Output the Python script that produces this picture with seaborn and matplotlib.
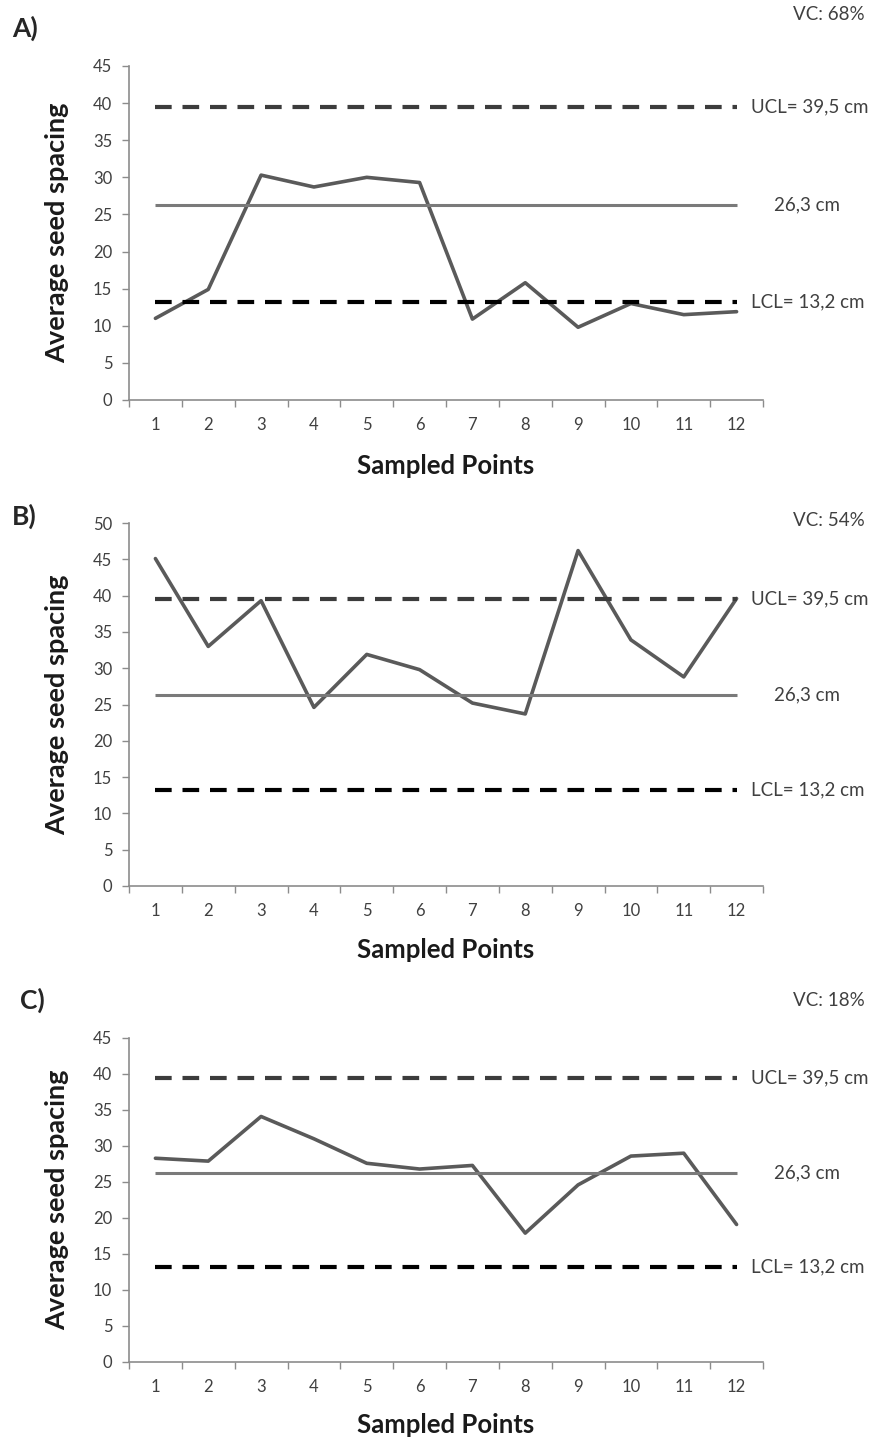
import numpy as np
import pandas as pd
import matplotlib
matplotlib.use("Agg")
import matplotlib.pyplot as plt
import seaborn as sns

points = list(range(1, 13))
spacing_a = [11.0, 14.9, 30.3, 28.7, 30.0, 29.3, 10.9, 15.8, 9.8, 13.0, 11.5, 11.9]
spacing_b = [45.1, 33.0, 39.3, 24.6, 31.9, 29.8, 25.2, 23.7, 46.2, 33.9, 28.8, 39.6]
spacing_c = [28.3, 27.9, 34.1, 31.0, 27.6, 26.8, 27.3, 17.9, 24.6, 28.6, 29.0, 19.1]
panel_names = ["A)", "B)", "C)"]
vc_labels = ["VC: 68%", "VC: 54%", "VC: 18%"]
y_max = [45, 50, 45]
ucl, mean, lcl = 39.5, 26.3, 13.2
ucl_label = "UCL= 39,5 cm"
mean_label = "26,3 cm"
lcl_label = "LCL= 13,2 cm"

sns.set_style("ticks")
plt.rcParams['font.family'] = ['Lato', 'DejaVu Sans']

W, H = 882, 1441
fig = plt.figure(figsize=(W / 100, H / 100), dpi=100)

# axes boxes in pixels: left, right, top, bottom (top-down image coords)
px_boxes = [(129, 763, 66, 400), (129, 763, 523, 886), (129, 763, 1038, 1362)]
panel_xy = [(12, 28), (12, 516), (20, 1000)]
vc_y = [15, 520, 1000]
xlabel_y = [466, 950, 1425]
ylabel_x = 57

axis_col = "#8c8c8c"
text_col = "#404040"

for i, vals in enumerate([spacing_a, spacing_b, spacing_c]):
    l, r, t, b = px_boxes[i]
    ax = fig.add_axes((l / W, 1 - b / H, (r - l) / W, (b - t) / H))
    df = pd.DataFrame({"point": points, "spacing": vals})
    sns.lineplot(data=df, x="point", y="spacing", ax=ax, color="#5a5a5a", lw=2.6)

    ax.hlines(ucl, 1, 12, colors="#3c3c3c", linestyles=(0, (4.0, 2.6)), lw=3)
    ax.hlines(mean, 1, 12, colors="#7a7a7a", lw=2.2)
    ax.hlines(lcl, 1, 12, colors="#000000", linestyles=(0, (4.0, 2.6)), lw=3)

    ax.text(12.28, ucl, ucl_label, va="center", ha="left", fontsize=13.5, color=text_col)
    ax.text(12.7, mean, mean_label, va="center", ha="left", fontsize=13.5, color=text_col)
    ax.text(12.28, lcl, lcl_label, va="center", ha="left", fontsize=13.5, color=text_col)

    ax.set_xlim(0.5, 12.5)
    ax.set_ylim(0, y_max[i])
    ax.set_yticks(np.arange(0, y_max[i] + 1, 5))
    ax.set_xticks(points)
    ax.set_xticks(np.arange(0.5, 12.6, 1), minor=True)
    ax.tick_params(axis="x", which="major", length=0, pad=12, labelsize=12, labelcolor=text_col)
    ax.tick_params(axis="x", which="minor", length=5, color=axis_col, width=1)
    ax.tick_params(axis="y", length=5, color=axis_col, width=1, pad=7, labelsize=12, labelcolor=text_col)

    sns.despine(ax=ax)
    for side in ["left", "bottom"]:
        ax.spines[side].set_color(axis_col)
        ax.spines[side].set_linewidth(1.2)

    ax.set_xlabel("Sampled Points", fontsize=18.5, fontweight="bold", color="#1a1a1a", va="center")
    ax.set_ylabel("Average seed spacing", fontsize=19.5, fontweight="bold", color="#1a1a1a", va="center")
    ax.xaxis.set_label_coords(0.5, (b - xlabel_y[i]) / (b - t))
    ax.yaxis.set_label_coords((ylabel_x - l) / (r - l), 0.5)

    px, py = panel_xy[i]
    fig.text(px / W, 1 - py / H, panel_names[i], fontsize=19, fontweight="bold", va="center")
    fig.text(0.98, 1 - vc_y[i] / H, vc_labels[i], fontsize=13.5, ha="right", va="center", color=text_col)

fig.savefig("out.png", dpi=100, facecolor="white")
